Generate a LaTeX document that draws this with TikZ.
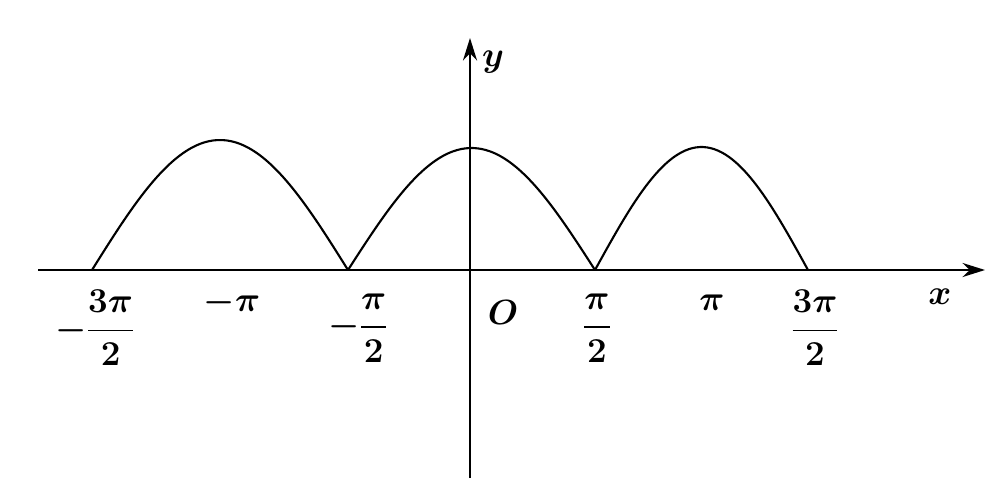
\documentclass[tikz,border=0pt]{standalone}
\usepackage{amsmath}
\usetikzlibrary{arrows.meta}
\begin{document}
\begin{tikzpicture}[x=0.025cm,y=-0.025cm,
  axis/.style={line width=1.6pt,-{Stealth[length=16pt,width=10pt]}},
  curve/.style={line width=1.5pt},
  lab/.style={font=\fontsize{30}{34}\selectfont, inner sep=0pt}]
\useasboundingbox (0,0) rectangle (1004,500);
\coordinate (xs) at (38,270); \coordinate (xe) at (985,270);
\coordinate (ys) at (470,478); \coordinate (ye) at (470,38);
\draw[axis] (xs) -- (xe);
\draw[axis] (ys) -- (ye);
\draw[curve] plot[domain=0:180,samples=60,smooth] ({92+\x/180*256},{270-130*sin(\x)});
\draw[curve] plot[domain=0:180,samples=60,smooth] ({348+\x/180*247},{270-122*sin(\x)});
\draw[curve] plot[domain=0:180,samples=60,smooth] ({595+\x/180*213},{270-123*sin(\x)});
\node[lab] (l1) at (95,328) {$\boldsymbol{-\dfrac{3\pi}{2}}$};
\node[lab] (l2) at (232,303) {$\boldsymbol{-\pi}$};
\node[lab] (l3) at (358,328) {$\boldsymbol{-\dfrac{\pi}{2}}$};
\node[lab] (lo) at (503,312) {$\boldsymbol{O}$};
\node[lab] (l4) at (597,328) {$\boldsymbol{\dfrac{\pi}{2}}$};
\node[lab] (l5) at (712,303) {$\boldsymbol{\pi}$};
\node[lab] (l6) at (815,328) {$\boldsymbol{\dfrac{3\pi}{2}}$};
\node[lab] (lx) at (940,297) {$\boldsymbol{x}$};
\node[lab] (ly) at (493,62) {$\boldsymbol{y}$};
\end{tikzpicture}
\end{document}
